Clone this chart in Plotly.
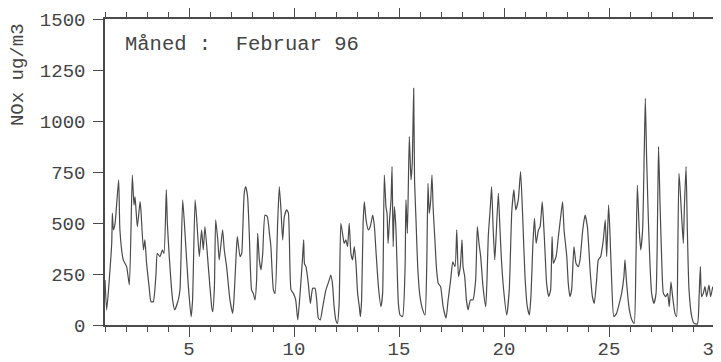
import plotly.graph_objects as go

# NOx hourly trace, February 1996 (day of month, ug/m3)
days = [
    1.00, 1.08, 1.32, 1.35, 1.40, 1.48, 1.65, 1.71, 1.87, 2.03, 2.16, 2.30, 2.38, 2.43, 2.54,
    2.67, 2.71, 2.83, 2.90, 2.98, 3.10, 3.19, 3.30, 3.43, 3.49, 3.62, 3.73, 3.81, 3.92, 3.97,
    4.06, 4.22, 4.32, 4.49, 4.57, 4.70, 4.81, 4.97, 5.10, 5.17, 5.29, 5.37, 5.49, 5.60, 5.68,
    5.76, 5.92, 6.08, 6.13, 6.21, 6.27, 6.37, 6.44, 6.60, 6.68, 6.79, 6.95, 7.08, 7.14, 7.24,
    7.30, 7.43, 7.51, 7.56, 7.63, 7.70, 7.79, 7.87, 7.98, 8.06, 8.14, 8.22, 8.27, 8.35, 8.43,
    8.51, 8.62, 8.73, 8.83, 8.90, 9.02, 9.10, 9.22, 9.30, 9.38, 9.46, 9.54, 9.65, 9.73, 9.78,
    9.86, 9.97, 10.08, 10.18, 10.29, 10.40, 10.46, 10.50, 10.57, 10.68, 10.78, 10.89, 11.00,
    11.08, 11.16, 11.25, 11.37, 11.52, 11.68, 11.75, 11.83, 11.91, 11.99, 12.07, 12.15, 12.23,
    12.31, 12.39, 12.47, 12.55, 12.63, 12.71, 12.79, 12.87, 12.95, 13.03, 13.11, 13.16, 13.22,
    13.29, 13.35, 13.43, 13.54, 13.63, 13.75, 13.83, 13.90, 14.02, 14.14, 14.22, 14.30, 14.38,
    14.43, 14.48, 14.55, 14.62, 14.67, 14.72, 14.78, 14.85, 14.90, 14.97, 15.05, 15.17, 15.29,
    15.33, 15.40, 15.49, 15.57, 15.63, 15.70, 15.74, 15.81, 15.89, 16.00, 16.13, 16.24, 16.32,
    16.38, 16.44, 16.51, 16.57, 16.63, 16.71, 16.79, 16.87, 16.98, 17.10, 17.24, 17.34, 17.46,
    17.56, 17.67, 17.75, 17.83, 17.92, 18.00, 18.05, 18.13, 18.21, 18.29, 18.40, 18.52, 18.65,
    18.73, 18.81, 18.89, 19.00, 19.13, 19.19, 19.25, 19.35, 19.41, 19.48, 19.56, 19.63, 19.73,
    19.79, 19.87, 19.98, 20.13, 20.25, 20.37, 20.47, 20.56, 20.68, 20.79, 20.89, 21.00, 21.11,
    21.21, 21.29, 21.37, 21.45, 21.53, 21.64, 21.72, 21.82, 21.87, 21.95, 22.03, 22.13, 22.22,
    22.29, 22.35, 22.48, 22.59, 22.70, 22.79, 22.86, 22.99, 23.06, 23.14, 23.22, 23.33, 23.43,
    23.54, 23.62, 23.75, 23.86, 23.97, 24.10, 24.21, 24.30, 24.41, 24.49, 24.60, 24.73, 24.82,
    24.89, 24.98, 25.04, 25.12, 25.23, 25.36, 25.49, 25.60, 25.71, 25.76, 25.84, 25.97, 26.09,
    26.20, 26.28, 26.35, 26.44, 26.51, 26.60, 26.68, 26.73, 26.79, 26.87, 26.95, 27.03, 27.14,
    27.24, 27.32, 27.36, 27.43, 27.51, 27.59, 27.70, 27.79, 27.87, 27.95, 28.03, 28.14, 28.22,
    28.27, 28.33, 28.38, 28.46, 28.54, 28.59, 28.67, 28.73, 28.81, 28.94, 29.05, 29.21, 29.29,
    29.35, 29.41, 29.49, 29.57, 29.65, 29.76, 29.84, 29.94,
]
nox = [
    221, 74, 400, 547, 466, 498, 711, 466, 319, 286, 196, 735, 588, 629, 482,
    605, 564, 368, 417, 302, 188, 114, 114, 253, 351, 335, 368, 351, 662, 498,
    335, 123, 74, 123, 172, 613, 449, 188, 41, 123, 613, 515, 335, 466, 368,
    482, 286, 90, 65, 188, 515, 417, 319, 466, 368, 286, 123, 57, 123, 335,
    433, 335, 351, 466, 645, 678, 629, 449, 172, 155, 123, 221, 449, 319, 270,
    351, 539, 531, 449, 384, 172, 155, 498, 678, 564, 417, 531, 564, 550, 417,
    172, 155, 123, 25, 155, 319, 417, 300, 286, 204, 106, 180, 180,
    123, 33, 25, 90, 172, 221, 245, 204, 90, 25, 8, 106, 498,
    449, 400, 417, 384, 498, 351, 319, 384, 302, 155, 90, 41, 123,
    498, 604, 515, 466, 482, 539, 482, 368, 188, 90, 155, 735, 580,
    547, 400, 515, 613, 776, 384, 580, 482, 319, 106, 49, 41, 286,
    613, 449, 923, 711, 792, 1160, 711, 515, 286, 139, 74, 49, 286,
    694, 547, 613, 735, 564, 417, 270, 204, 188, 90, 33, 123, 221,
    310, 286, 466, 237, 286, 417, 286, 237, 123, 74, 123, 123, 221,
    482, 400, 335, 188, 90, 221, 433, 580, 678, 482, 319, 449, 645,
    515, 335, 175, 49, 172, 555, 662, 564, 613, 752, 531, 237, 90,
    49, 155, 384, 523, 400, 466, 482, 604, 531, 368, 204, 139, 172,
    433, 302, 335, 433, 531, 604, 466, 335, 204, 139, 172, 384, 302,
    286, 319, 466, 539, 482, 270, 139, 106, 221, 319, 335, 417, 515,
    335, 588, 466, 237, 41, 57, 106, 155, 237, 319, 204, 74, 25,
    8, 302, 686, 466, 368, 466, 858, 1111, 825, 531, 302, 155, 106,
    155, 596, 874, 596, 319, 155, 139, 155, 90, 212, 139, 57, 41,
    302, 743, 678, 531, 400, 580, 776, 466, 172, 41, 8, 5, 139,
    286, 139, 155, 188, 139, 196, 139, 188,
]

y_ticks = [0, 250, 500, 750, 1000, 1250, 1500]
x_ticks = [5, 10, 15, 20, 25, 30]
label = "Måned :  Februar 96"
y_title = "NOx ug/m3"

ink = "#4a4a4a"
font = dict(family="Liberation Mono, Courier New, monospace", size=19, color="#444444")

fig = go.Figure()
fig.add_trace(go.Scatter(x=days, y=nox, mode="lines",
                         line=dict(color=ink, width=1.2, shape="spline", smoothing=0.5),
                         showlegend=False, hoverinfo="skip"))

# the page body adds an 8px offset, so the figure is sized/margined to compensate
fig.update_layout(
    width=713, height=354,
    margin=dict(l=97, r=7, t=11, b=37),
    paper_bgcolor="white", plot_bgcolor="white",
    font=font,
    xaxis=dict(range=[1, 30.0001], tickvals=x_ticks, ticks="outside", ticklen=10, tickwidth=1.3,
               tickcolor=ink, showline=True, linecolor=ink, linewidth=1.5, mirror="ticks",
               showgrid=False, zeroline=False, automargin=False, ticklabelstandoff=-5,
               ticklabeloverflow="allow",
               minor=dict(dtick=1, ticks="outside", ticklen=5, tickwidth=1, tickcolor=ink)),
    yaxis=dict(range=[0, 1500], tickvals=y_ticks, ticks="outside", ticklen=10, tickwidth=1.3,
               tickcolor=ink, showline=True, linecolor=ink, linewidth=1.5, mirror="ticks",
               showgrid=False, zeroline=False, automargin=False, ticklabelstandoff=4),
    annotations=[
        dict(text=label, xref="paper", yref="paper", x=0.03, y=0.918,
             xanchor="left", yanchor="middle", showarrow=False, font=dict(size=20.5)),
        dict(text=y_title, xref="paper", yref="paper", x=-0.1429, y=0.82,
             xanchor="center", yanchor="middle", textangle=-90, showarrow=False,
             font=dict(size=19)),
    ],
)

fig.write_html("out.html")
